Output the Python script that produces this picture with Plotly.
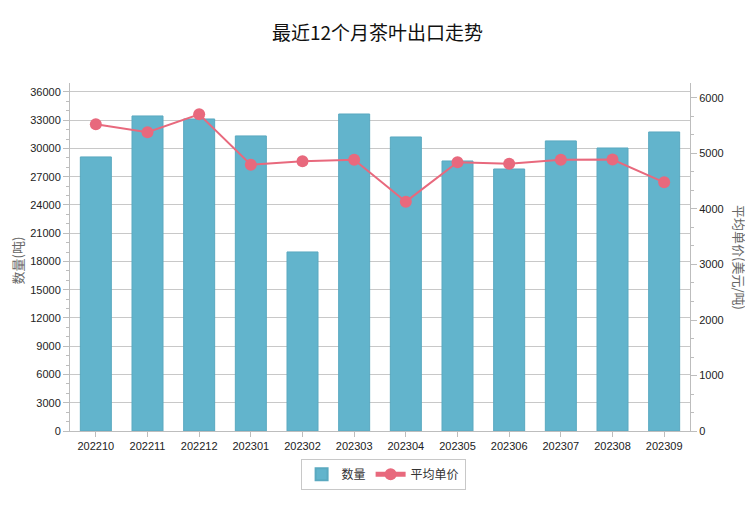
import plotly.graph_objects as go

months = ["202210", "202211", "202212", "202301", "202302", "202303",
          "202304", "202305", "202306", "202307", "202308", "202309"]
quantity = [29100, 33450, 33130, 31330, 19010, 33660,
            31220, 28670, 27820, 30800, 30050, 31750]
avg_price = [5526, 5382, 5706, 4799, 4859, 4889,
             4132, 4841, 4817, 4889, 4890, 4480]

left_ticks = list(range(0, 36001, 3000))
right_ticks = list(range(0, 6001, 1000))

bar_color = "#62B4CC"
line_color = "#E8697D"
grid_color = "#C8C8C8"
axis_color = "#BDBDBD"
text_color = "#333333"
font_family = "Liberation Sans, Noto Sans CJK SC, sans-serif"

fig = go.Figure()
fig.add_trace(go.Bar(
    x=months, y=quantity, name="数量",
    marker=dict(color=bar_color, line=dict(width=1, color="#5AA9C0")),
    width=0.6, yaxis="y",
))
fig.add_trace(go.Scatter(
    x=months, y=avg_price, name="平均单价", mode="lines+markers",
    line=dict(color=line_color, width=2),
    marker=dict(color=line_color, size=12),
    yaxis="y2",
))

fig.update_layout(
    width=745, height=499,
    margin=dict(l=62, r=63, t=75, b=76, autoexpand=False),
    paper_bgcolor="white", plot_bgcolor="white",
    font=dict(family=font_family, size=11, color=text_color),
    title=dict(text="最近12个月茶叶出口走势", x=0.496, xanchor="center",
               y=0.95, yanchor="middle",
               font=dict(family="Noto Sans CJK SC", size=19, color="#111111")),
    showlegend=True,
    legend=dict(orientation="h", x=0.505, xanchor="center", y=-0.08, yanchor="top",
                bordercolor="#C8C8C8", borderwidth=1,
                font=dict(family="Noto Sans CJK SC", size=12, color=text_color),
                itemsizing="constant"),
    bargap=0.4,
    xaxis=dict(
        type="category", range=[-0.5, len(months) - 0.5],
        showgrid=False, showline=True, linecolor=axis_color,
        ticks="outside", ticklen=5, tickcolor=axis_color, automargin=False,
        tickfont=dict(size=11, color="#222222"),
    ),
    yaxis=dict(
        range=[0, 36950], tickvals=left_ticks, ticktext=[str(v) for v in left_ticks],
        showgrid=True, gridcolor=grid_color, gridwidth=1, automargin=False,
        showline=True, linecolor=axis_color, ticks="outside", ticklen=6,
        tickcolor=axis_color, zeroline=False,
        minor=dict(dtick=1000, ticks="outside", ticklen=3, tickcolor=axis_color, showgrid=False),
        tickfont=dict(size=11, color="#222222"),
    ),
    yaxis2=dict(
        range=[0, 6270], overlaying="y", side="right", automargin=False,
        tickvals=right_ticks, ticktext=[str(v) for v in right_ticks],
        showgrid=False, showline=True, linecolor=axis_color, ticks="outside", ticklen=6,
        tickcolor=axis_color, zeroline=False,
        minor=dict(dtick=1000/3, ticks="outside", ticklen=3, tickcolor=axis_color, showgrid=False),
        tickfont=dict(size=11, color="#222222"),
    ),
    annotations=[
        dict(
            text="数量(吨)", textangle=-90, xref="paper", yref="paper",
            x=0.0, xanchor="center", xshift=-53, y=0.49, yanchor="middle", showarrow=False,
            font=dict(family="Noto Sans CJK SC", size=13, color="#666666"),
        ),
        dict(
            text="平均单价(美元/吨)", textangle=90, xref="paper", yref="paper",
            x=1.0, xanchor="center", xshift=50, y=0.5, yanchor="middle", showarrow=False,
            font=dict(family="Noto Sans CJK SC", size=13, color="#666666"),
        ),
    ],
)

fig.write_html("out.html")
